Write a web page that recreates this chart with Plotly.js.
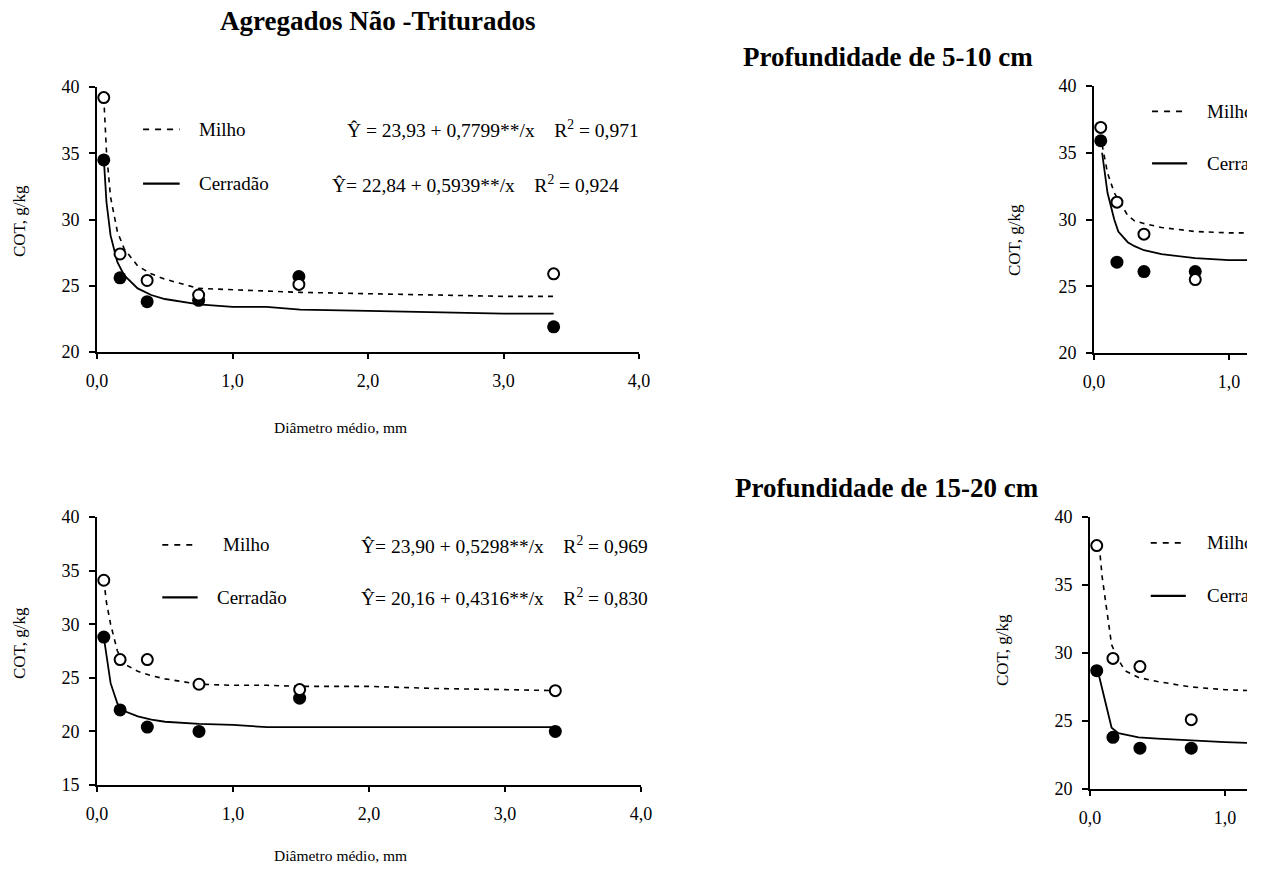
<!DOCTYPE html>
<html>
<head>
<meta charset="utf-8">
<script src="https://cdn.plot.ly/plotly-3.0.1.min.js"></script>
<style>
html,body{margin:0;padding:0;background:#fff;}
#clip{width:1247px;height:878px;overflow:hidden;}
#chart{width:1264px;height:878px;}
</style>
</head>
<body>
<div id="clip"><div id="chart"></div></div>
<script>
// ---- data ----
const xMean = [0.05, 0.17, 0.37, 0.75, 1.49, 3.37];

// Top-left panel
const tlMilho    = [39.2, 27.4, 25.4, 24.3, 25.1, 25.9];
const tlCerradao = [34.5, 25.6, 23.8, 23.9, 25.7, 21.9];
const tlFitX     = [0.05, 0.07, 0.1, 0.15, 0.2, 0.3, 0.4, 0.5, 0.75, 1.0, 1.25, 1.5, 2.0, 2.5, 3.0, 3.37];
const tlMilhoFit = [39.2, 35.1, 31.7, 29.1, 27.8, 26.5, 25.9, 25.5, 24.8, 24.7, 24.6, 24.5, 24.4, 24.3, 24.2, 24.2];
const tlCerrFit  = [34.6, 31.3, 28.8, 26.8, 25.8, 24.8, 24.3, 24.0, 23.6, 23.4, 23.4, 23.2, 23.1, 23.0, 22.9, 22.9];

// Bottom-left panel
const blMilho    = [34.1, 26.7, 26.7, 24.4, 23.9, 23.8];
const blCerradao = [28.8, 22.0, 20.4, 20.0, 23.1, 20.0];
const blFitX     = [0.05, 0.07, 0.1, 0.15, 0.2, 0.3, 0.4, 0.5, 0.75, 1.0, 1.25, 1.5, 2.0, 2.5, 3.0, 3.37];
const blMilhoFit = [34.1, 32.0, 30.0, 27.5, 26.3, 25.6, 25.2, 24.9, 24.4, 24.3, 24.3, 24.2, 24.2, 24.0, 23.9, 23.8];
const blCerrFit  = [28.8, 27.0, 24.5, 22.6, 21.9, 21.4, 21.1, 20.9, 20.7, 20.6, 20.4, 20.4, 20.4, 20.4, 20.4, 20.4];

// Top-right panel: Profundidade de 5-10 cm
const trMilho    = [36.9, 31.3, 28.9, 25.5];
const trCerradao = [35.9, 26.8, 26.1, 26.1];
const trFitX     = [0.06, 0.1, 0.15, 0.18, 0.25, 0.3, 0.37, 0.5, 0.75, 1.0, 1.3];
const trMilhoFit = [35.6, 33.5, 32.0, 31.5, 30.3, 29.9, 29.7, 29.4, 29.1, 29.0, 29.0];
const trCerrFit  = [35.0, 32.0, 30.0, 29.1, 28.3, 28.0, 27.7, 27.4, 27.1, 26.95, 26.95];

// Bottom-right panel: Profundidade de 15-20 cm
const brMilho    = [37.9, 29.6, 29.0, 25.1];
const brCerradao = [28.7, 23.8, 23.0, 23.0];
const brFitX     = [0.06, 0.075, 0.09, 0.13, 0.16, 0.21, 0.26, 0.36, 0.5, 0.75, 1.0, 1.3];
const brMilhoFit = [37.9, 37.2, 35.6, 32.9, 30.6, 29.5, 28.7, 28.2, 27.9, 27.5, 27.3, 27.2];
const brCerrFit  = [28.6, 28.0, 27.4, 25.6, 24.5, 24.1, 24.0, 23.8, 23.7, 23.55, 23.45, 23.35];

// tick labels
const xTickVals = [0, 1, 2, 3, 4];
const xTickText = ['0,0', '1,0', '2,0', '3,0', '4,0'];
const yTickVals = [15, 20, 25, 30, 35, 40];
const yTickText = ['15', '20', '25', '30', '35', '40'];

const seriesNames = ['Milho', 'Cerradão'];
const eqTL = ['Ŷ = 23,93 + 0,7799**/x\u00a0\u00a0\u00a0\u00a0R<sup>2</sup> = 0,971', 'Ŷ= 22,84 + 0,5939**/x\u00a0\u00a0\u00a0\u00a0R<sup>2</sup> = 0,924'];
const eqBL = ['Ŷ= 23,90 + 0,5298**/x\u00a0\u00a0\u00a0\u00a0R<sup>2</sup> = 0,969', 'Ŷ= 20,16 + 0,4316**/x\u00a0\u00a0\u00a0\u00a0R<sup>2</sup> = 0,830'];
const titles = ['Agregados Não -Triturados', 'Profundidade de 5-10 cm', 'Profundidade de 15-20 cm'];
const xTitle = 'Diâmetro médio, mm';
const yTitle = 'COT, g/kg';

// ---- build ----
const FONT = 'Liberation Serif, Times New Roman, serif';
const W = 1264, H = 878;
const px = v => v / W;
const py = v => 1 - v / H;

function panel(xs, milho, cerr, fitX, milhoFit, cerrFit, ax) {
  const xa = ax === 1 ? 'x' : 'x' + ax, ya = ax === 1 ? 'y' : 'y' + ax;
  const n = milho.length;
  return [
    {x: fitX, y: milhoFit, xaxis: xa, yaxis: ya, mode: 'lines', name: seriesNames[0], line: {color: 'black', width: 1.6, dash: '5px,5px'}, showlegend: false, hoverinfo: 'skip'},
    {x: fitX, y: cerrFit, xaxis: xa, yaxis: ya, mode: 'lines', name: seriesNames[1], line: {color: 'black', width: 1.8}, showlegend: false, hoverinfo: 'skip'},
    {x: xs.slice(0, n), y: cerr, xaxis: xa, yaxis: ya, mode: 'markers', name: seriesNames[1], marker: {symbol: 'circle', size: 13, color: 'black'}, showlegend: false},
    {x: xs.slice(0, n), y: milho, xaxis: xa, yaxis: ya, mode: 'markers', name: seriesNames[0], marker: {symbol: 'circle', size: 11, color: 'white', line: {color: 'black', width: 2}}, showlegend: false}
  ];
}

const data = [].concat(
  panel(xMean, tlMilho, tlCerradao, tlFitX, tlMilhoFit, tlCerrFit, 1),
  panel(xMean, trMilho, trCerradao, trFitX, trMilhoFit, trCerrFit, 2),
  panel(xMean, blMilho, blCerradao, blFitX, blMilhoFit, blCerrFit, 3),
  panel(xMean, brMilho, brCerradao, brFitX, brMilhoFit, brCerrFit, 4)
);

function xaxis(d0, d1, range, anchor) {
  return {
    domain: [d0, d1], range: range, anchor: anchor,
    showline: true, linecolor: 'black', linewidth: 2,
    showgrid: false, zeroline: false,
    ticks: 'outside', ticklen: 5, tickwidth: 2, tickcolor: 'black',
    tickvals: xTickVals, ticktext: xTickText, ticklabelstandoff: 6,
    tickfont: {family: FONT, size: 18, color: 'black'}
  };
}
function yaxis(d0, d1, range, anchor) {
  return {
    domain: [d0, d1], range: range, anchor: anchor,
    showline: true, linecolor: 'black', linewidth: 2,
    showgrid: false, zeroline: false,
    ticks: 'outside', ticklen: 6, tickwidth: 2, tickcolor: 'black',
    tickvals: yTickVals, ticktext: yTickText, ticklabelstandoff: 6,
    tickfont: {family: FONT, size: 18, color: 'black'}
  };
}

const annotations = [];
const shapes = [];
const TXT = {family: FONT, size: 19, color: 'black'};
const EQ = {family: FONT, size: 19.5, color: 'black'};
function legendBlock(xa, ya, sx0, sx1, yM, yC, tx, eqx, eqs) {
  shapes.push({type: 'line', xref: xa, yref: ya, x0: sx0, x1: sx1, y0: yM, y1: yM, line: {color: 'black', width: 1.6, dash: '6px,6px'}});
  shapes.push({type: 'line', xref: xa, yref: ya, x0: sx0, x1: sx1, y0: yC, y1: yC, line: {color: 'black', width: 2.2}});
  annotations.push({xref: xa, yref: ya, x: tx[0], y: yM, text: seriesNames[0], showarrow: false, xanchor: 'left', font: TXT});
  annotations.push({xref: xa, yref: ya, x: tx[1], y: yC, text: seriesNames[1], showarrow: false, xanchor: 'left', font: TXT});
  if (eqs) {
    annotations.push({xref: xa, yref: ya, x: eqx[0], y: yM, text: eqs[0], showarrow: false, xanchor: 'left', font: EQ});
    annotations.push({xref: xa, yref: ya, x: eqx[1], y: yC, text: eqs[1], showarrow: false, xanchor: 'left', font: EQ});
  }
}
legendBlock('x', 'y', 0.34, 0.61, 36.8, 32.7, [0.74, 0.74], [1.83, 1.72], eqTL);
legendBlock('x3', 'y3', 0.48, 0.74, 37.4, 32.5, [0.91, 0.87], [1.93, 1.93], eqBL);
legendBlock('x2', 'y2', 0.43, 0.69, 38.1, 34.2, [0.82, 0.82], null, null);
legendBlock('x4', 'y4', 0.45, 0.71, 38.1, 34.2, [0.85, 0.85], null, null);

// panel titles
const TTL = {family: FONT, size: 27, color: 'black'};
annotations.push({xref: 'paper', yref: 'paper', x: px(378), y: py(21), xanchor: 'center', yanchor: 'middle', text: '<b>' + titles[0] + '</b>', showarrow: false, font: TTL});
annotations.push({xref: 'paper', yref: 'paper', x: px(888), y: py(57), xanchor: 'center', yanchor: 'middle', text: '<b>' + titles[1] + '</b>', showarrow: false, font: TTL});
annotations.push({xref: 'paper', yref: 'paper', x: px(887), y: py(488), xanchor: 'center', yanchor: 'middle', text: '<b>' + titles[2] + '</b>', showarrow: false, font: TTL});

// axis titles
const AXX = {family: FONT, size: 15.5, color: 'black'};
const AXY = {family: FONT, size: 17, color: 'black'};
annotations.push({xref: 'paper', yref: 'paper', x: px(340), y: py(428), xanchor: 'center', yanchor: 'middle', text: xTitle, showarrow: false, font: AXX});
annotations.push({xref: 'paper', yref: 'paper', x: px(340), y: py(855), xanchor: 'center', yanchor: 'middle', text: xTitle, showarrow: false, font: AXX});
annotations.push({xref: 'paper', yref: 'paper', x: px(19), y: py(221), xanchor: 'center', yanchor: 'middle', textangle: -90, text: yTitle, showarrow: false, font: AXY});
annotations.push({xref: 'paper', yref: 'paper', x: px(19), y: py(643), xanchor: 'center', yanchor: 'middle', textangle: -90, text: yTitle, showarrow: false, font: AXY});
annotations.push({xref: 'paper', yref: 'paper', x: px(1015), y: py(240), xanchor: 'center', yanchor: 'middle', textangle: -90, text: yTitle, showarrow: false, font: AXY});
annotations.push({xref: 'paper', yref: 'paper', x: px(1002), y: py(650), xanchor: 'center', yanchor: 'middle', textangle: -90, text: yTitle, showarrow: false, font: AXY});

const layout = {
  width: W, height: H,
  margin: {l: 0, r: 0, t: 0, b: 0},
  paper_bgcolor: 'white', plot_bgcolor: 'white',
  showlegend: false,
  font: {family: FONT, color: 'black'},
  xaxis:  xaxis(px(97), px(639), [0, 4], 'y'),
  yaxis:  yaxis(py(352), py(87), [20, 40], 'x'),
  xaxis2: xaxis(px(1094), 1, [0, (1264 - 1094) / 135], 'y2'),
  yaxis2: yaxis(py(353), py(86), [20, 40], 'x2'),
  xaxis3: xaxis(px(97), px(641), [0, 4], 'y3'),
  yaxis3: yaxis(py(785), py(517), [15, 40], 'x3'),
  xaxis4: xaxis(px(1090), 1, [0, (1264 - 1090) / 135], 'y4'),
  yaxis4: yaxis(py(789), py(517), [20, 40], 'x4'),
  annotations: annotations,
  shapes: shapes
};

Plotly.newPlot('chart', data, layout, {displayModeBar: false, staticPlot: true});
</script>
</body>
</html>
